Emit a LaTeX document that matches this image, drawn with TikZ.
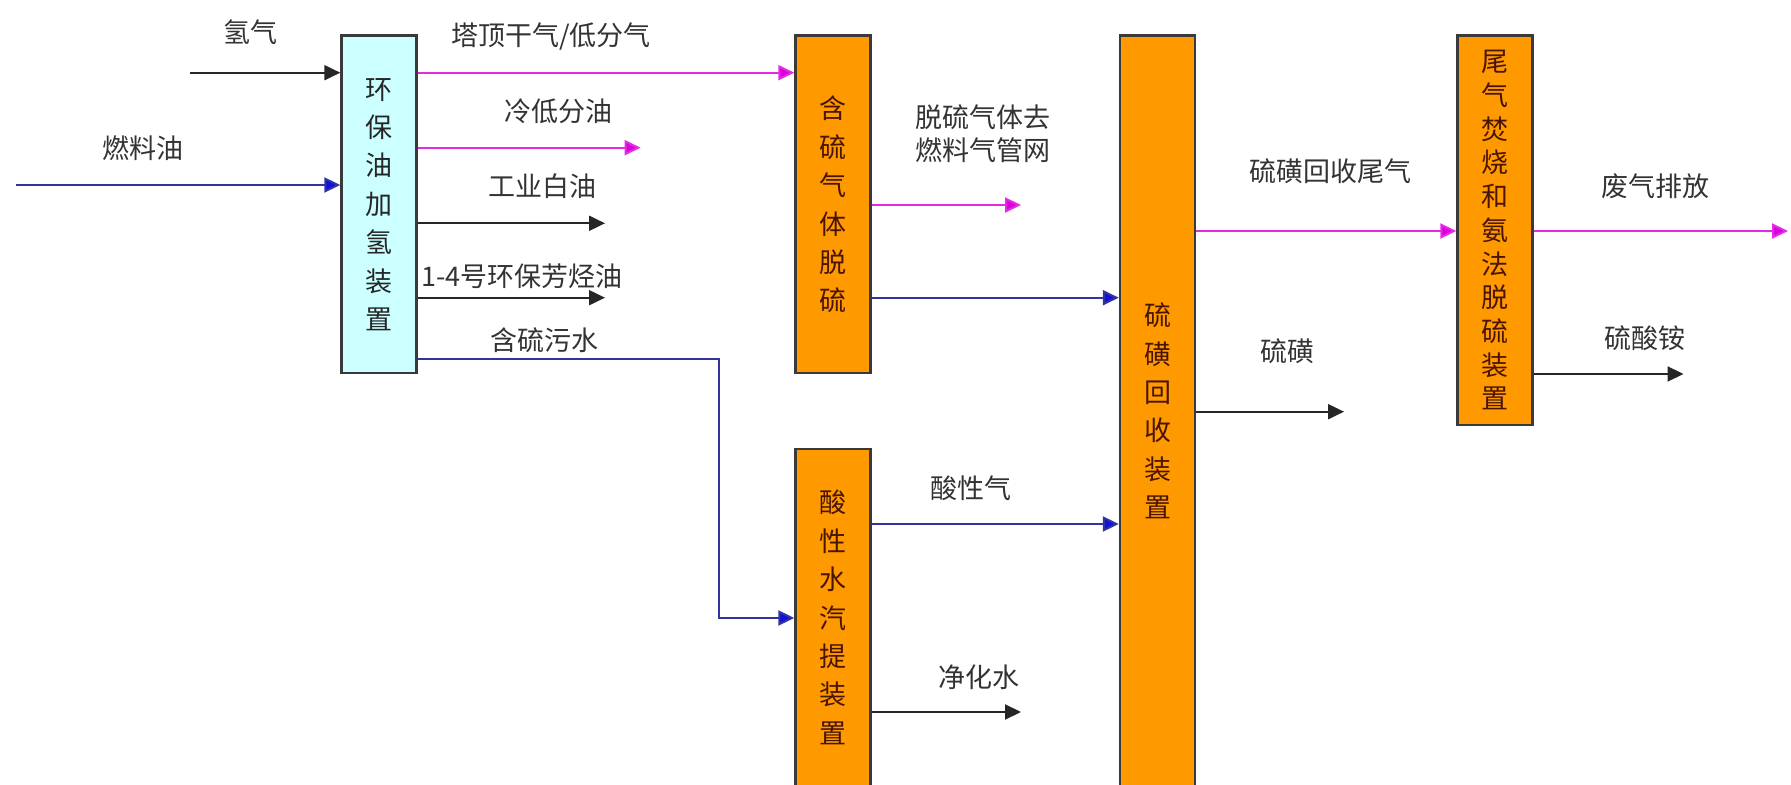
\documentclass[tikz,border=0pt]{standalone}
\usepackage{fontspec}
\newfontfamily\cjk{Noto Sans CJK SC}
\usetikzlibrary{arrows.meta}
\definecolor{boxorange}{HTML}{FF9900}
\definecolor{boxcyan}{HTML}{CCFFFF}
\definecolor{pinkline}{HTML}{E22BE2}
\definecolor{pinktip}{HTML}{DD00DD}
\definecolor{blueline}{HTML}{3333A0}
\definecolor{bluetip}{HTML}{1010E0}
\definecolor{boxtext}{HTML}{4A1500}
\definecolor{edge}{HTML}{3A3A3A}
\tikzset{
  unit/.style={draw=edge, line width=1.2pt, minimum width=37.5pt, inner sep=0pt, align=center,
    font=\cjk\fontsize{13.5}{19.2}\selectfont},
  orangebox/.style={unit, fill=boxorange, text=boxtext},
  cyanbox/.style={unit, fill=boxcyan, text=black!85},
  lbl/.style={font=\cjk\fontsize{13.5}{16.5}\selectfont, text=black!80, inner sep=0pt, align=center},
  flow/.style={line width=1pt},
  blackflow/.style={flow, draw=black!85, -{Triangle[length=8pt,width=7.5pt]}},
  pinkflow/.style={flow, draw=pinkline, -{Triangle[length=8pt,width=7.5pt,fill=pinktip]}},
  blueflow/.style={flow, draw=blueline, -{Triangle[length=8pt,width=7.5pt,fill=bluetip]}},
}
\begin{document}
\begin{tikzpicture}[x=0.5pt,y=-0.5pt]
\useasboundingbox (0,0) rectangle (1791,785);
\fill[white] (0,0) rectangle (1791,785);

% boxes
\node[cyanbox, minimum height=168.8pt] (b1) at (379,204.5) {环\\保\\油\\加\\氢\\装\\置};
\node[orangebox, minimum height=168.8pt] (b2) at (833,204.5) {含\\硫\\气\\体\\脱\\硫};
\node[orangebox, minimum height=168.5pt] (b3) at (833,617.5) {酸\\性\\水\\汽\\提\\装\\置};
\node[orangebox, minimum height=375.5pt] (b4) at (1157.5,411) {硫\\磺\\回\\收\\装\\置};
\node[orangebox, minimum height=194.7pt, font=\cjk\fontsize{13.5}{16.85}\selectfont] (b5) at (1495,230.3) {尾\\气\\焚\\烧\\和\\氨\\法\\脱\\硫\\装\\置};

% free ends
\coordinate (h2in) at (190,72.7);
\coordinate (oilin) at (15.6,185);
\coordinate (o2) at (640.6,147.7);
\coordinate (o3) at (605,223.3);
\coordinate (o4) at (605,297.7);
\coordinate (k1) at (719,359);
\coordinate (k2) at (719,618);
\coordinate (g1) at (1021,205);
\coordinate (w1) at (1021,712);
\coordinate (s1) at (1344,411.7);
\coordinate (e1) at (1788,231);
\coordinate (n1) at (1683.5,374);

% connectors
\draw[blackflow] (h2in) -- (b1.west |- h2in);
\draw[blueflow] (oilin) -- (b1.west |- oilin);
\draw[pinkflow] (b1.east |- h2in) -- (b2.west |- h2in);
\draw[pinkflow] (b1.east |- o2) -- (o2);
\draw[blackflow] (b1.east |- o3) -- (o3);
\draw[blackflow] (b1.east |- o4) -- (o4);
\draw[blueflow] (b1.east |- k1) -- (k1) -- (k2) -- (b3.west |- k2);
\draw[pinkflow] (b2.east |- g1) -- (g1);
\draw[blueflow] (b2.east |- o4) -- (b4.west |- o4);
\draw[blueflow] (b3.east |- 0,524) -- (b4.west |- 0,524);
\draw[blackflow] (b3.east |- w1) -- (w1);
\draw[pinkflow] (b4.east |- e1) -- (b5.west |- e1);
\draw[blackflow] (b4.east |- s1) -- (s1);
\draw[pinkflow] (b5.east |- e1) -- (e1);
\draw[blackflow] (b5.east |- n1) -- (n1);

% labels
\node[lbl] (l1) at (250,31.7) {氢气};
\node[lbl] (l2) at (143,148) {燃料油};
\node[lbl] (l3) at (551,36.7) {塔顶干气/低分气};
\node[lbl] (l4) at (558,111.7) {冷低分油};
\node[lbl] (l5) at (542,186) {工业白油};
\node[lbl] (l6) at (522,276.7) {1-4号环保芳烃油};
\node[lbl] (l7) at (544.6,340) {含硫污水};
\node[lbl] (l8) at (983,133.3) {脱硫气体去\\燃料气管网};
\node[lbl] (l9) at (971,488) {酸性气};
\node[lbl] (l10) at (979,677) {净化水};
\node[lbl] (l11) at (1330,171.7) {硫磺回收尾气};
\node[lbl] (l12) at (1287,351.7) {硫磺};
\node[lbl] (l13) at (1655,186.7) {废气排放};
\node[lbl] (l14) at (1644.7,338) {硫酸铵};
\end{tikzpicture}
\end{document}
